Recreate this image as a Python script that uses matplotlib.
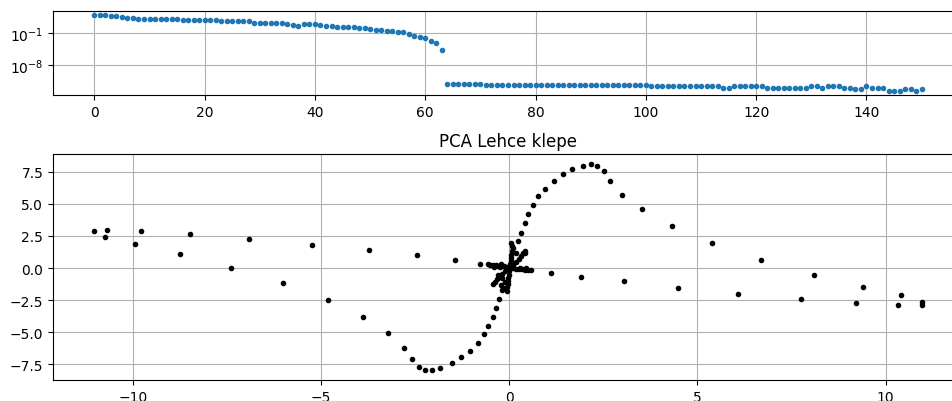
import matplotlib
matplotlib.use("Agg")
import matplotlib.pyplot as plt

# spectrum (singular values), index 0..150
spectrum = [
    1.5e3, 1.48e3, 1.45e3, 7.6e2, 7.2e2, 3.8e2, 3.7e2, 3.6e2, 1.95e2, 1.9e2,
    1.9e2, 1.88e2, 1.86e2, 1.85e2, 1.84e2, 1.8e2, 1.15e2, 1.13e2, 1.12e2, 1.25e2,
    1.24e2, 1.22e2, 1.2e2, 60, 59, 58, 57, 56, 55, 25,
    24.5, 24, 23.5, 23, 22.5, 10.5, 10, 5.2, 12.5, 12,
    11.5, 6.3, 6.1, 6.0, 2.8, 2.7, 2.65, 2.6, 1.4, 1.35,
    0.8, 0.78, 0.76, 0.41, 0.39, 0.21, 0.19, 0.085, 0.035, 0.018,
    9.3e-3, 2.0e-3, 5.9e-4, 2.0e-5,
    5.8e-13, 5.8e-13, 5.8e-13, 5.8e-13, 5.8e-13, 5.8e-13, 5.8e-13,
    3.2e-13, 3.2e-13, 3.2e-13, 3.2e-13, 3.2e-13, 3.2e-13, 3.2e-13, 3.2e-13, 3.2e-13, 3.2e-13,
    3.2e-13, 3.2e-13, 3.2e-13, 3.2e-13, 3.2e-13, 3.2e-13, 3.2e-13, 3.2e-13, 3.2e-13, 3.2e-13,
    3.2e-13, 3.2e-13, 3.2e-13, 3.2e-13, 3.2e-13, 3.2e-13, 3.2e-13, 3.2e-13, 3.2e-13, 3.2e-13,
    1.4e-13, 1.4e-13, 1.4e-13, 1.4e-13, 1.4e-13, 1.4e-13, 1.4e-13, 1.4e-13, 1.4e-13, 1.4e-13,
    1.4e-13, 1.4e-13, 1.4e-13, 8e-14, 8e-14,
    1.4e-13, 1.4e-13, 1.4e-13, 1.4e-13, 1.4e-13, 1.4e-13,
    8e-14, 8e-14, 8e-14, 8e-14, 8e-14, 8e-14, 8e-14, 8e-14,
    1.4e-13, 1.4e-13, 8e-14, 1.4e-13, 1.4e-13, 1.4e-13, 8e-14, 8e-14,
    3.2e-14, 3.2e-14, 1.4e-13, 8e-14, 8e-14, 8e-14,
    1.4e-14, 1.4e-14, 1.4e-14, 3.2e-14, 3.2e-14, 1.25e-14, 3.2e-14,
]

# PCA projection: first and second component
pc1 = [
    # upper band, left side
    -11.02, -10.69, -9.79, -8.49, -6.91, -5.25, -3.73, -2.44, -1.45, -0.77,
    # lower band, left side
    -10.74, -9.94, -8.75, -7.38, -6.0, -4.81, -3.88, -3.23,
    # s-curve, lower loop
    -2.79, -2.58, -2.39, -2.24, -2.04, -1.83, -1.52, -1.28, -1.03, -0.84,
    -0.66, -0.56, -0.44, -0.35, -0.27, -0.19,
    # s-curve, upper loop and tail
    0.23, 0.32, 0.41, 0.50, 0.64, 0.78, 0.96, 1.18, 1.43, 1.68,
    1.96, 2.18, 2.34, 2.52, 2.69, 3.01, 3.52, 4.32, 5.39, 6.69,
    8.10, 9.41, 10.41, 10.96,
    # lower band, right side
    1.10, 1.92, 3.05, 4.49, 6.08, 7.75, 9.22, 10.34, 10.96,
    # cluster around origin
    -0.57, -0.50, -0.43, -0.36, -0.29, -0.22, -0.14, -0.07, 0.10, 0.18,
    0.26, 0.34, 0.42, 0.50, 0.57, -0.40, -0.25, 0.30, 0.45,
    0.05, 0.07, 0.09, 0.08, 0.06, 0.05, 0.04, 0.03, 0.0, -0.01,
    -0.02, -0.03, -0.04, -0.05, -0.05,
    0.43, 0.38, 0.32, 0.26, 0.18, 0.10, -0.10, -0.18, -0.25, -0.32,
    -0.38, -0.42, -0.30, -0.20, -0.12, -0.22, -0.15, 0.0, 0.05, -0.05,
    0.19, 0.41, -0.21,
]
pc2 = [
    2.88, 2.99, 2.86, 2.65, 2.24, 1.79, 1.38, 0.99, 0.65, 0.34,
    2.44, 1.90, 1.07, 0.03, -1.17, -2.52, -3.79, -5.06,
    -6.20, -7.06, -7.68, -7.91, -7.91, -7.79, -7.40, -6.95, -6.43, -5.81,
    -5.16, -4.54, -3.82, -3.09, -2.44, -1.74,
    2.10, 2.76, 3.48, 4.24, 4.88, 5.61, 6.15, 6.81, 7.30, 7.74,
    7.94, 8.08, 7.94, 7.53, 6.81, 5.72, 4.57, 3.30, 1.92, 0.65,
    -0.52, -1.48, -2.10, -2.65,
    -0.41, -0.72, -1.04, -1.58, -2.0, -2.41, -2.75, -2.85, -2.85,
    0.29, 0.27, 0.25, 0.23, 0.20, 0.17, 0.13, 0.10, -0.02, -0.05,
    -0.08, -0.10, -0.12, -0.14, -0.16, 0.12, 0.05, 0.02, -0.02,
    1.95, 1.75, 1.55, 1.30, 1.05, 0.80, 0.55, 0.30, -0.25, -0.50,
    -0.75, -1.00, -1.25, -1.50, -1.75,
    1.35, 1.15, 0.92, 0.70, 0.48, 0.25, -0.25, -0.45, -0.65, -0.85,
    -1.05, -1.20, -0.55, -0.80, -1.10, -1.30, -1.55, 0.0, 0.05, -0.05,
    1.20, 1.20, 0.29,
]

fig = plt.figure(figsize=(9.52, 4.02), dpi=100)

# the original screenshot cuts off the right edge of both panels
ax1 = fig.add_axes([53 / 952, 1 - 96 / 402, 910 / 952, 84 / 402])
ax1.semilogy(range(len(spectrum)), spectrum, '.')
ax1.yaxis.set_minor_locator(matplotlib.ticker.NullLocator())
ax1.grid()

ax2 = fig.add_axes([53 / 952, 1 - 381 / 402, 910 / 952, 226 / 402])
ax2.plot(pc1, pc2, 'k.')
ax2.set_title("PCA Lehce klepe")
ax2.grid()

fig.savefig("out.png", dpi=100)
